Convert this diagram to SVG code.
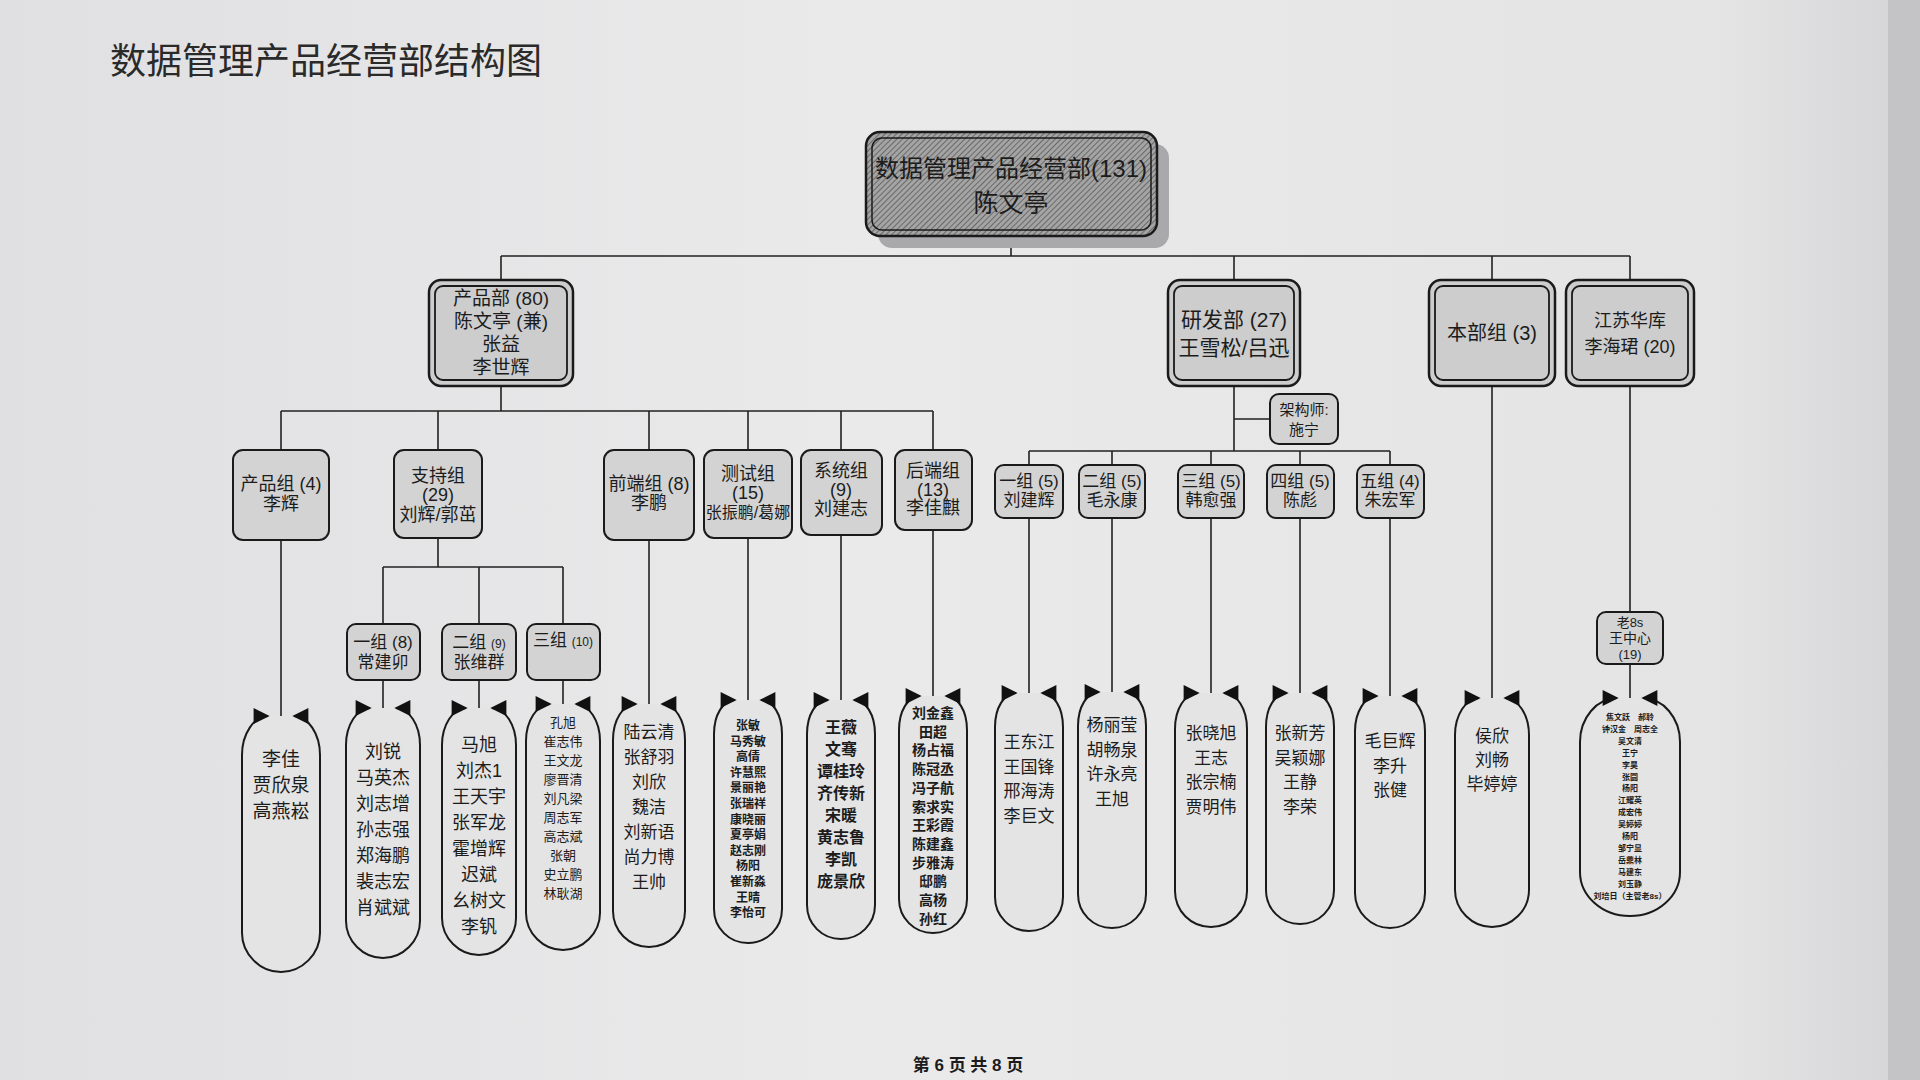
<svg xmlns="http://www.w3.org/2000/svg" width="1920" height="1080" viewBox="0 0 1920 1080">
<defs>
<linearGradient id="bg" x1="0" y1="0" x2="1" y2="0">
<stop offset="0" stop-color="#e0e0e2"/>
<stop offset="0.45" stop-color="#eaeaeb"/>
<stop offset="0.9" stop-color="#e4e4e5"/>
<stop offset="1" stop-color="#d4d4d6"/>
</linearGradient>
<pattern id="hatch" width="4" height="4" patternUnits="userSpaceOnUse" patternTransform="rotate(45)">
<rect width="4" height="4" fill="#a4a4a4"/>
<line x1="0" y1="0" x2="0" y2="4" stroke="#5a5a5a" stroke-width="1.6"/>
</pattern>
<marker id="ah" viewBox="0 0 10 10" refX="9" refY="5" markerWidth="18" markerHeight="16" markerUnits="userSpaceOnUse" orient="auto-start-reverse">
<path d="M0,0 L10,5 L0,10 z" fill="#111"/>
</marker>
<style>
text{font-family:"Liberation Sans","Noto Sans CJK SC",sans-serif;fill:#1c1c1c;text-anchor:middle}
.ln{stroke:#222;stroke-width:1.6;fill:none}
.bx{fill:#d3d3d3;stroke:#1a1a1a;stroke-width:2}
.b1o{fill:#cdcdcd;stroke:#1a1a1a;stroke-width:2.5}
.b1i{fill:none;stroke:#1a1a1a;stroke-width:1.8}
.pill{fill:#e4e4e4;stroke:#1a1a1a;stroke-width:2;marker-start:url(#ah);marker-end:url(#ah)}
.t1{font-size:19px}
.t2{font-size:18px}
</style>
</defs>
<rect width="1920" height="1080" fill="url(#bg)"/>
<rect x="1888" y="0" width="32" height="1080" fill="#c4c4c6"/>

<text x="110" y="74" style="font-size:36px;text-anchor:start;fill:#2a2a2a">数据管理产品经营部结构图</text>

<g id="connectors">
<path class="ln" d="M1011,236 V256 M501,256 H1630 M501,256 V280 M1234,256 V280 M1492,256 V280 M1630,256 V280"/>
<path class="ln" d="M501,386 V411 M281,411 H933 M281,411 V450 M438,411 V450 M649,411 V450 M748,411 V450 M841,411 V450 M933,411 V450"/>
<path class="ln" d="M281,540 V716 M438,538 V567 M383,567 H563 M383,567 V624 M479,567 V624 M563,567 V624 M383,680 V708 M479,680 V708 M563,680 V704 M649,540 V704 M748,538 V700 M841,535 V700 M933,530 V696"/>
<path class="ln" d="M1234,386 V451 M1234,419 H1270 M1029,451 H1390 M1029,451 V465 M1112,451 V465 M1211,451 V465 M1300,451 V465 M1390,451 V465 M1029,518 V693 M1112,518 V692 M1211,518 V693 M1300,518 V693 M1390,518 V696"/>
<path class="ln" d="M1492,386 V698 M1630,386 V612 M1630,664 V698"/>
</g>

<g id="root">
<rect x="878" y="144" width="291" height="104" rx="14" fill="#a9a9ab"/>
<rect x="866" y="132" width="291" height="104" rx="14" fill="url(#hatch)" stroke="#1a1a1a" stroke-width="2.5"/>
<rect x="872" y="138" width="279" height="92" rx="10" fill="none" stroke="#1a1a1a" stroke-width="1.5"/>
<text x="1011" y="177" style="font-size:24px">数据管理产品经营部(131)</text>
<text x="1011" y="212" style="font-size:25px">陈文亭</text>
</g>

<g id="product-dept">
<rect class="b1o" x="429" y="280" width="144" height="106" rx="12"/>
<rect class="b1i" x="435" y="286" width="132" height="94" rx="8"/>
<text class="t1" x="501" y="305">产品部 (80)</text>
<text class="t1" x="501" y="328">陈文亭 (兼)</text>
<text class="t1" x="501" y="351">张益</text>
<text class="t1" x="501" y="374">李世辉</text>
</g>
<g id="rd-dept">
<rect class="b1o" x="1168" y="280" width="132" height="106" rx="12"/>
<rect class="b1i" x="1174" y="286" width="120" height="94" rx="8"/>
<text x="1234" y="327" style="font-size:21px">研发部 (27)</text>
<text x="1234" y="355" style="font-size:21px">王雪松/吕迅</text>
</g>
<g id="hq-group">
<rect class="b1o" x="1429" y="280" width="126" height="106" rx="12"/>
<rect class="b1i" x="1435" y="286" width="114" height="94" rx="8"/>
<text x="1492" y="340" style="font-size:20px">本部组 (3)</text>
</g>
<g id="jiangsu">
<rect class="b1o" x="1566" y="280" width="128" height="106" rx="12"/>
<rect class="b1i" x="1572" y="286" width="116" height="94" rx="8"/>
<text x="1630" y="327" style="font-size:18px">江苏华库</text>
<text x="1630" y="353" style="font-size:18px">李海珺 (20)</text>
</g>

<g id="product-group">
<rect class="bx" x="233" y="450" width="96" height="90" rx="10"/>
<text class="t2" x="281" y="490">产品组 (4)</text>
<text class="t2" x="281" y="510">李辉</text>
</g>
<g id="support-group">
<rect class="bx" x="394" y="450" width="88" height="88" rx="10"/>
<text class="t2" x="438" y="482">支持组</text>
<text class="t2" x="438" y="501">(29)</text>
<text class="t2" x="438" y="521">刘辉/郭茁</text>
</g>
<g id="frontend-group">
<rect class="bx" x="604" y="450" width="90" height="90" rx="10"/>
<text class="t2" x="649" y="490">前端组 (8)</text>
<text class="t2" x="649" y="509">李鹏</text>
</g>
<g id="test-group">
<rect class="bx" x="704" y="450" width="88" height="88" rx="10"/>
<text class="t2" x="748" y="480">测试组</text>
<text class="t2" x="748" y="499">(15)</text>
<text x="748" y="518" style="font-size:16px">张振鹏/葛娜</text>
</g>
<g id="system-group">
<rect class="bx" x="801" y="450" width="81" height="85" rx="10"/>
<text class="t2" x="841" y="477">系统组</text>
<text class="t2" x="841" y="496">(9)</text>
<text class="t2" x="841" y="515">刘建志</text>
</g>
<g id="backend-group">
<rect class="bx" x="895" y="450" width="77" height="80" rx="10"/>
<text class="t2" x="933" y="477">后端组</text>
<text class="t2" x="933" y="496">(13)</text>
<text class="t2" x="933" y="514">李佳麒</text>
</g>

<g id="support-1">
<rect class="bx" x="347" y="624" width="73" height="56" rx="9"/>
<text x="383" y="648" style="font-size:17px">一组 (8)</text>
<text x="383" y="668" style="font-size:17px">常建卯</text>
</g>
<g id="support-2">
<rect class="bx" x="442" y="624" width="74" height="56" rx="9"/>
<text x="479" y="648" style="font-size:17px">二组 <tspan style="font-size:12px">(9)</tspan></text>
<text x="479" y="668" style="font-size:17px">张维群</text>
</g>
<g id="support-3">
<rect class="bx" x="527" y="624" width="73" height="56" rx="9"/>
<text x="563" y="646" style="font-size:17px">三组 <tspan style="font-size:12px">(10)</tspan></text>
</g>

<g id="architect">
<rect class="bx" x="1270" y="394" width="68" height="50" rx="9"/>
<text x="1304" y="415" style="font-size:15px">架构师:</text>
<text x="1304" y="435" style="font-size:15px">施宁</text>
</g>
<g id="rd-1">
<rect class="bx" x="995" y="465" width="68" height="53" rx="9"/>
<text x="1029" y="487" style="font-size:17px">一组 (5)</text>
<text x="1029" y="506" style="font-size:17px">刘建辉</text>
</g>
<g id="rd-2">
<rect class="bx" x="1079" y="465" width="66" height="53" rx="9"/>
<text x="1112" y="487" style="font-size:17px">二组 (5)</text>
<text x="1112" y="506" style="font-size:17px">毛永康</text>
</g>
<g id="rd-3">
<rect class="bx" x="1178" y="465" width="66" height="53" rx="9"/>
<text x="1211" y="487" style="font-size:17px">三组 (5)</text>
<text x="1211" y="506" style="font-size:17px">韩愈强</text>
</g>
<g id="rd-4">
<rect class="bx" x="1267" y="465" width="67" height="53" rx="9"/>
<text x="1300" y="487" style="font-size:17px">四组 (5)</text>
<text x="1300" y="506" style="font-size:17px">陈彪</text>
</g>
<g id="rd-5">
<rect class="bx" x="1357" y="465" width="67" height="53" rx="9"/>
<text x="1390" y="487" style="font-size:17px">五组 (4)</text>
<text x="1390" y="506" style="font-size:17px">朱宏军</text>
</g>
<g id="lao8s">
<rect class="bx" x="1597" y="612" width="66" height="52" rx="9"/>
<text x="1630" y="627" style="font-size:13px">老8s</text>
<text x="1630" y="643" style="font-size:14px">王中心</text>
<text x="1630" y="659" style="font-size:13px">(19)</text>
</g>

<g id="list-product">
<path class="pill" d="M294,716 C308,716 320,734 320,755 L320,933 C320,954 302,972 281,972 C260,972 242,954 242,933 L242,755 C242,734 254,716 268,716"/>
<text x="281" y="766" style="font-size:19px"><tspan x="281">李佳</tspan><tspan x="281" dy="26">贾欣泉</tspan><tspan x="281" dy="26">高燕崧</tspan></text>
</g>
<g id="list-support-1">
<path class="pill" d="M396,708 C409,708 420,725 420,745 L420,921 C420,941 403,958 383,958 C363,958 346,941 346,921 L346,745 C346,725 357,708 370,708"/>
<text x="383" y="758" style="font-size:18px"><tspan x="383">刘锐</tspan><tspan x="383" dy="26">马英杰</tspan><tspan x="383" dy="26">刘志增</tspan><tspan x="383" dy="26">孙志强</tspan><tspan x="383" dy="26">郑海鹏</tspan><tspan x="383" dy="26">裴志宏</tspan><tspan x="383" dy="26">肖斌斌</tspan></text>
</g>
<g id="list-support-2">
<path class="pill" d="M492,708 C505,708 516,725 516,745 L516,918 C516,938 499,955 479,955 C459,955 442,938 442,918 L442,745 C442,725 453,708 466,708"/>
<text x="479" y="751" style="font-size:18px"><tspan x="479">马旭</tspan><tspan x="479" dy="26">刘杰1</tspan><tspan x="479" dy="26">王天宇</tspan><tspan x="479" dy="26">张军龙</tspan><tspan x="479" dy="26">霍增辉</tspan><tspan x="479" dy="26">迟斌</tspan><tspan x="479" dy="26">幺树文</tspan><tspan x="479" dy="26">李钒</tspan></text>
</g>
<g id="list-support-3">
<path class="pill" d="M576,704 C589,704 600,721 600,741 L600,913 C600,933 583,950 563,950 C543,950 526,933 526,913 L526,741 C526,721 537,704 550,704"/>
<text x="563" y="727" style="font-size:13px"><tspan x="563">孔旭</tspan><tspan x="563" dy="19">崔志伟</tspan><tspan x="563" dy="19">王文龙</tspan><tspan x="563" dy="19">廖晋清</tspan><tspan x="563" dy="19">刘凡梁</tspan><tspan x="563" dy="19">周志军</tspan><tspan x="563" dy="19">高志斌</tspan><tspan x="563" dy="19">张朝</tspan><tspan x="563" dy="19">史立鹏</tspan><tspan x="563" dy="19">林耿湖</tspan></text>
</g>
<g id="list-frontend">
<path class="pill" d="M662,704 C675,704 685,720 685,740 L685,911 C685,931 669,947 649,947 C629,947 613,931 613,911 L613,740 C613,720 623,704 636,704"/>
<text x="649" y="738" style="font-size:17px"><tspan x="649">陆云清</tspan><tspan x="649" dy="25">张舒羽</tspan><tspan x="649" dy="25">刘欣</tspan><tspan x="649" dy="25">魏洁</tspan><tspan x="649" dy="25">刘新语</tspan><tspan x="649" dy="25">尚力博</tspan><tspan x="649" dy="25">王帅</tspan></text>
</g>
<g id="list-test">
<path class="pill" d="M761,700 C773,700 782,715 782,734 L782,909 C782,928 767,943 748,943 C729,943 714,928 714,909 L714,734 C714,715 723,700 735,700"/>
<text x="748" y="730" style="font-size:12px;font-weight:bold"><tspan x="748">张敏</tspan><tspan x="748" dy="15.6">马秀敏</tspan><tspan x="748" dy="15.6">高倩</tspan><tspan x="748" dy="15.6">许慧熙</tspan><tspan x="748" dy="15.6">景丽艳</tspan><tspan x="748" dy="15.6">张瑞祥</tspan><tspan x="748" dy="15.6">康晓丽</tspan><tspan x="748" dy="15.6">夏亭娟</tspan><tspan x="748" dy="15.6">赵志刚</tspan><tspan x="748" dy="15.6">杨阳</tspan><tspan x="748" dy="15.6">崔新淼</tspan><tspan x="748" dy="15.6">王晴</tspan><tspan x="748" dy="15.6">李怡可</tspan></text>
</g>
<g id="list-system">
<path class="pill" d="M854,700 C866,700 875,715 875,734 L875,905 C875,924 860,939 841,939 C822,939 807,924 807,905 L807,734 C807,715 816,700 828,700"/>
<text x="841" y="733" style="font-size:16px;font-weight:bold"><tspan x="841">王薇</tspan><tspan x="841" dy="22">文骞</tspan><tspan x="841" dy="22">谭桂玲</tspan><tspan x="841" dy="22">齐传新</tspan><tspan x="841" dy="22">宋暖</tspan><tspan x="841" dy="22">黄志鲁</tspan><tspan x="841" dy="22">李凯</tspan><tspan x="841" dy="22">庞景欣</tspan></text>
</g>
<g id="list-backend">
<path class="pill" d="M946,696 C958,696 967,711 967,730 L967,899 C967,918 952,933 933,933 C914,933 899,918 899,899 L899,730 C899,711 908,696 920,696"/>
<text x="933" y="718" style="font-size:14px;font-weight:bold"><tspan x="933">刘金鑫</tspan><tspan x="933" dy="18.7">田超</tspan><tspan x="933" dy="18.7">杨占福</tspan><tspan x="933" dy="18.7">陈冠丞</tspan><tspan x="933" dy="18.7">冯子航</tspan><tspan x="933" dy="18.7">索求实</tspan><tspan x="933" dy="18.7">王彩霞</tspan><tspan x="933" dy="18.7">陈建鑫</tspan><tspan x="933" dy="18.7">步雅涛</tspan><tspan x="933" dy="18.7">邸鹏</tspan><tspan x="933" dy="18.7">高杨</tspan><tspan x="933" dy="18.7">孙红</tspan></text>
</g>
<g id="list-rd-1">
<path class="pill" d="M1042,693 C1054,693 1063,708 1063,727 L1063,897 C1063,916 1048,931 1029,931 C1010,931 995,916 995,897 L995,727 C995,708 1004,693 1016,693"/>
<text x="1029" y="748" style="font-size:17px"><tspan x="1029">王东江</tspan><tspan x="1029" dy="24.5">王国锋</tspan><tspan x="1029" dy="24.5">邢海涛</tspan><tspan x="1029" dy="24.5">李巨文</tspan></text>
</g>
<g id="list-rd-2">
<path class="pill" d="M1125,692 C1137,692 1146,707 1146,726 L1146,894 C1146,913 1131,928 1112,928 C1093,928 1078,913 1078,894 L1078,726 C1078,707 1087,692 1099,692"/>
<text x="1112" y="731" style="font-size:17px"><tspan x="1112">杨丽莹</tspan><tspan x="1112" dy="24.5">胡畅泉</tspan><tspan x="1112" dy="24.5">许永亮</tspan><tspan x="1112" dy="24.5">王旭</tspan></text>
</g>
<g id="list-rd-3">
<path class="pill" d="M1224,693 C1237,693 1247,709 1247,729 L1247,891 C1247,911 1231,927 1211,927 C1191,927 1175,911 1175,891 L1175,729 C1175,709 1185,693 1198,693"/>
<text x="1211" y="739" style="font-size:17px"><tspan x="1211">张晓旭</tspan><tspan x="1211" dy="24.5">王志</tspan><tspan x="1211" dy="24.5">张宗楠</tspan><tspan x="1211" dy="24.5">贾明伟</tspan></text>
</g>
<g id="list-rd-4">
<path class="pill" d="M1313,693 C1325,693 1334,708 1334,727 L1334,890 C1334,909 1319,924 1300,924 C1281,924 1266,909 1266,890 L1266,727 C1266,708 1275,693 1287,693"/>
<text x="1300" y="739" style="font-size:17px"><tspan x="1300">张新芳</tspan><tspan x="1300" dy="24.5">吴颖娜</tspan><tspan x="1300" dy="24.5">王静</tspan><tspan x="1300" dy="24.5">李荣</tspan></text>
</g>
<g id="list-rd-5">
<path class="pill" d="M1403,696 C1415,696 1425,712 1425,731 L1425,893 C1425,912 1409,928 1390,928 C1371,928 1355,912 1355,893 L1355,731 C1355,712 1365,696 1377,696"/>
<text x="1390" y="747" style="font-size:17px"><tspan x="1390">毛巨辉</tspan><tspan x="1390" dy="24.5">李升</tspan><tspan x="1390" dy="24.5">张健</tspan></text>
</g>
<g id="list-hq">
<path class="pill" d="M1505,698 C1518,698 1529,715 1529,735 L1529,890 C1529,910 1512,927 1492,927 C1472,927 1455,910 1455,890 L1455,735 C1455,715 1466,698 1479,698"/>
<text x="1492" y="742" style="font-size:17px"><tspan x="1492">侯欣</tspan><tspan x="1492" dy="24">刘畅</tspan><tspan x="1492" dy="24">毕婷婷</tspan></text>
</g>
<g id="list-jiangsu">
<path class="pill" d="M1643,698 C1663,698 1680,718 1680,742 L1680,872 C1680,896 1658,916 1630,916 C1602,916 1580,896 1580,872 L1580,742 C1580,718 1597,698 1617,698"/>
<text x="1630" y="720" style="font-size:8px;font-weight:bold"><tspan x="1630">焦文跃　郝聆</tspan><tspan x="1630" dy="11.9">钟汉金　周志全</tspan><tspan x="1630" dy="11.9">吴文清</tspan><tspan x="1630" dy="11.9">王宁</tspan><tspan x="1630" dy="11.9">李昊</tspan><tspan x="1630" dy="11.9">张圆</tspan><tspan x="1630" dy="11.9">杨阳</tspan><tspan x="1630" dy="11.9">江耀英</tspan><tspan x="1630" dy="11.9">成宏伟</tspan><tspan x="1630" dy="11.9">吴婷婷</tspan><tspan x="1630" dy="11.9">杨阳</tspan><tspan x="1630" dy="11.9">邹宁显</tspan><tspan x="1630" dy="11.9">岳鼎林</tspan><tspan x="1630" dy="11.9">马建东</tspan><tspan x="1630" dy="11.9">刘玉静</tspan><tspan x="1630" dy="11.9">刘培日（主管老8s）</tspan></text>
</g>

<text x="968" y="1071" style="font-size:17px;font-weight:bold">第 6 页 共 8 页</text>
</svg>
